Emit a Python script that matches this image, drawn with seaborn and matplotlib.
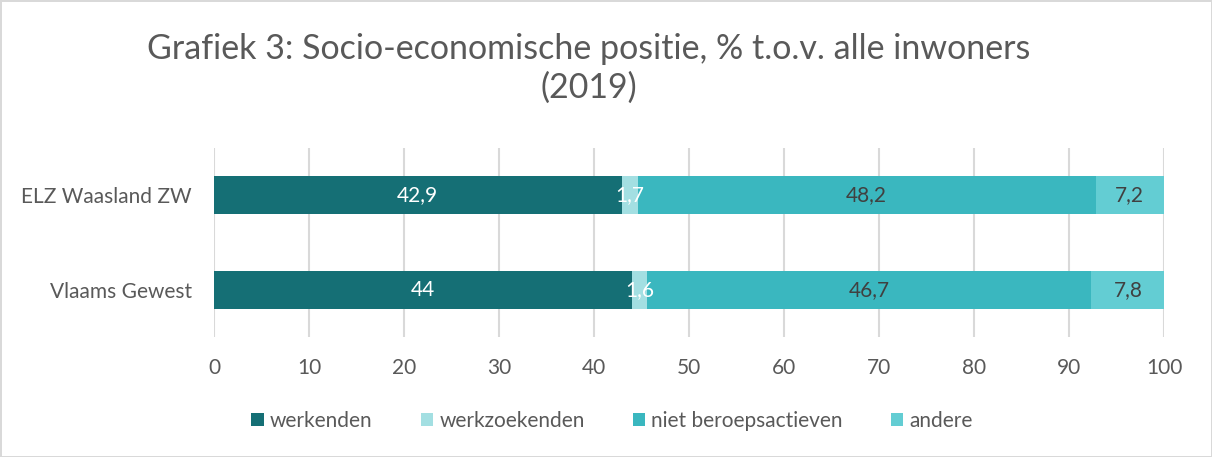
import numpy as np
import pandas as pd
import seaborn as sns
import matplotlib.pyplot as plt

regions = ["ELZ Waasland ZW", "Vlaams Gewest"]
series = ["werkenden", "werkzoekenden", "niet beroepsactieven", "andere"]
werkenden = [42.9, 44.0]
werkzoekenden = [1.7, 1.6]
niet_beroepsactieven = [48.2, 46.7]
andere = [7.2, 7.8]
labels = [["42,9", "1,7", "48,2", "7,2"], ["44", "1,6", "46,7", "7,8"]]
colors = ["#156F75", "#A3DFE2", "#3AB7BF", "#63CDD3"]
label_colors = ["white", "white", "#404040", "#404040"]

sns.set_style("white")
plt.rcParams["font.family"] = ["Lato", "DejaVu Sans"]

vals = np.array([werkenden, werkzoekenden, niet_beroepsactieven, andere])
cum = vals.cumsum(axis=0)

fig = plt.figure(figsize=(12.12, 4.57), dpi=100)
fig.patch.set_edgecolor("#D9D9D9")
fig.patch.set_linewidth(2)
ax = fig.add_axes([0.1766, 0.2626, 0.7838, 0.4134])

# stacked bars: draw the running totals from the right-most series backwards
for i in reversed(range(len(series))):
    df = pd.DataFrame({"regio": regions, "waarde": cum[i]})
    sns.barplot(data=df, x="waarde", y="regio", orient="h", color=colors[i],
                width=0.4, saturation=1, ax=ax, label=series[i], zorder=3,
                linewidth=0, edgecolor="none")

for r in range(len(regions)):
    for i in range(len(series)):
        mid = cum[i, r] - vals[i, r] / 2
        ax.text(mid, r, labels[r][i], ha="center", va="center",
                color=label_colors[i], fontsize=15, zorder=4)

handles, labs = ax.get_legend_handles_labels()
if ax.get_legend() is not None:
    ax.get_legend().remove()

ax.set_xlim(0, 100)
ax.set_ylim(1.5, -0.5)
ax.set_xticks(range(0, 101, 10))
ax.xaxis.grid(True, color="#D9D9D9", linewidth=1.5, zorder=0)
ax.yaxis.grid(False)
for s in ax.spines.values():
    s.set_visible(False)
ax.tick_params(axis="both", length=0, labelsize=15, colors="#595959")
ax.tick_params(axis="y", pad=16)
ax.tick_params(axis="x", pad=15)
ax.set_xlabel("")
ax.set_ylabel("")

order = [labs.index(s) for s in series]
fig.legend([handles[k] for k in order], series, loc="center", bbox_to_anchor=(0.505, 0.079),
           ncol=4, frameon=False, fontsize=15, labelcolor="#595959",
           handlelength=0.6, handleheight=0.6, handletextpad=0.3, columnspacing=2.3)

fig.suptitle("Grafiek 3: Socio-economische positie, % t.o.v. alle inwoners\n(2019)",
             x=0.486, y=0.85, va="center", fontsize=24.5, color="#595959", linespacing=1.25)

fig.savefig("out.png", dpi=100)
